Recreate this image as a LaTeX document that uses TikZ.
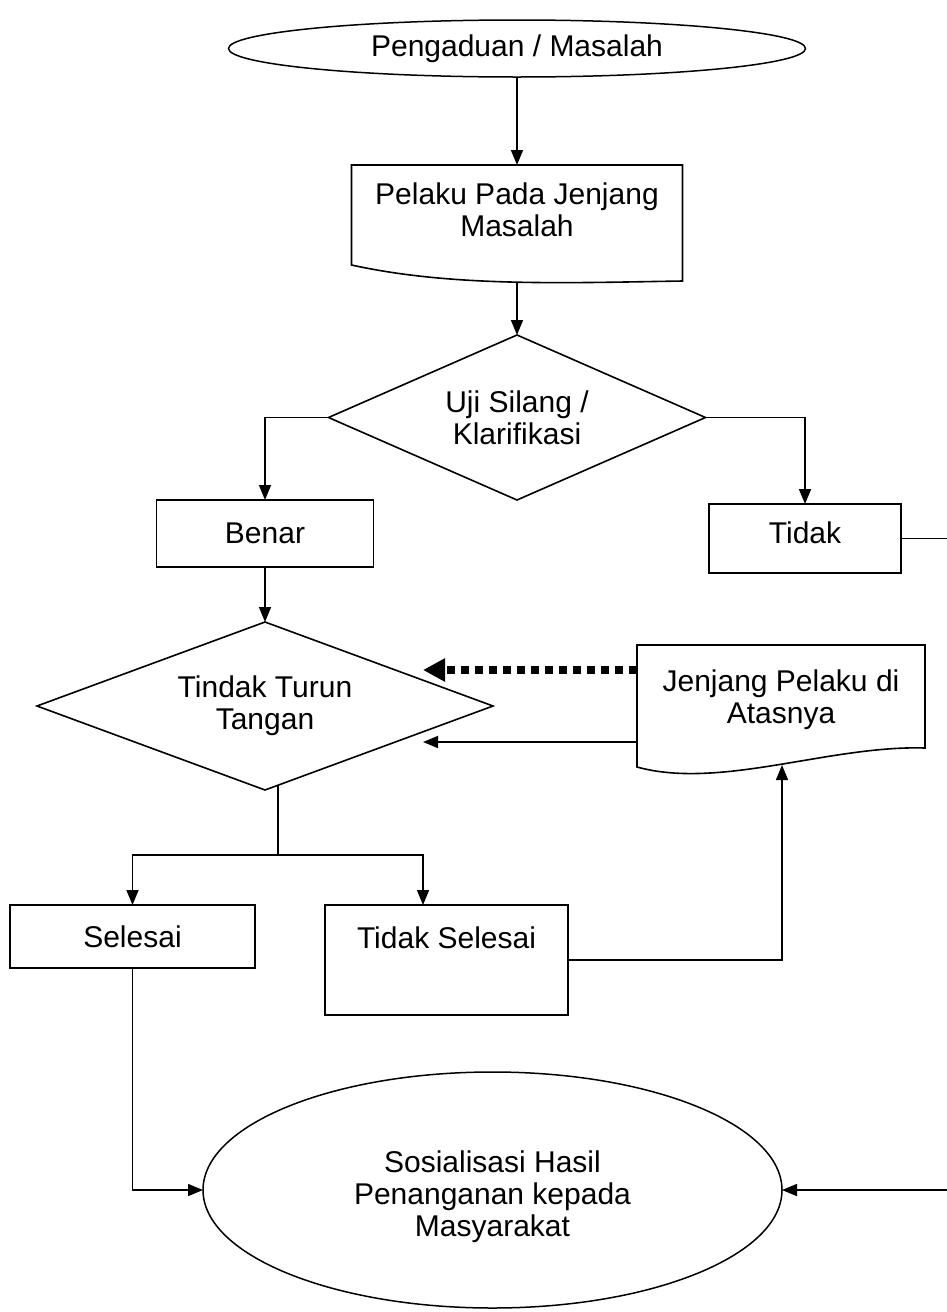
\documentclass[tikz,border=0pt]{standalone}
\usepackage{fontspec}
\setmainfont{Liberation Sans}
\usetikzlibrary{shapes.geometric,arrows.meta,calc}
\begin{document}
\begin{tikzpicture}[x=1pt,y=-1pt,
  every node/.style={font=\fontsize{30}{32}\selectfont, inner sep=0pt, outer sep=0pt},
  oval/.style={ellipse, draw, line width=1.5pt},
  procbox/.style={rectangle, draw, line width=1.6pt},
  docnode/.style={rectangle, align=center},
  decision/.style={diamond, draw, line width=1.6pt, align=center},
  outline/.style={line width=1.6pt},
  plain/.style={line width=1.6pt},
  arr/.style={line width=1.6pt, -{Triangle[length=15pt,width=12pt]}},
  dotarr/.style={line width=7.5pt, dash pattern=on 8pt off 6pt, -{Triangle[length=22pt,width=22pt]}}]
\useasboundingbox (0,0) rectangle (947,1312);

% nodes
\node[oval, minimum width=577pt, minimum height=57pt] (start) at (517,48.5) {Pengaduan / Masalah};
\node[docnode, minimum width=331pt, minimum height=100pt] (pelaku) at (517,215) {Pelaku Pada Jenjang\\Masalah\rule[-10pt]{0pt}{0pt}};
\node[decision, aspect=2.28, minimum width=377pt, minimum height=165pt] (uji) at (517,417.5) {Uji Silang /\\Klarifikasi};
\node[procbox, minimum width=217pt, minimum height=67pt] (benar) at (265,533.5) {Benar};
\node[procbox, minimum width=192pt, minimum height=69pt] (tidak) at (805,538.5) {Tidak\rule[-11pt]{0pt}{0pt}};
\node[decision, aspect=2.71, minimum width=456pt, minimum height=168pt] (tindak) at (265,706) {Tindak Turun\\Tangan};
\node[docnode, minimum width=288pt, minimum height=122pt] (jenjang) at (781,706) {Jenjang Pelaku di\\Atasnya\rule[-18pt]{0pt}{0pt}};
\node[procbox, minimum width=245pt, minimum height=63pt] (selesai) at (132.5,936.5) {Selesai};
\node[procbox, minimum width=243pt, minimum height=110pt] (tselesai) at (446.5,960) {Tidak Selesai\rule[-44pt]{0pt}{0pt}};
\node[oval, minimum width=579pt, minimum height=236pt, align=center] (sos) at (492.5,1190) {\rule{0pt}{36pt}Sosialisasi Hasil\\Penanganan kepada\\Masyarakat};

% document outlines
\draw[outline] (pelaku.north west) -- (pelaku.north east) -- ($(pelaku.south east)+(0,16)$)
  .. controls ($(pelaku.south east)+(-120,18)$) and ($(pelaku.south west)+(100,22)$) .. (pelaku.south west) -- cycle;
\draw[outline] (jenjang.north west) -- (jenjang.north east) -- ($(jenjang.south east)+(0,-19)$)
  .. controls ($(jenjang.south east)+(-95,-22)$) and ($(jenjang.south west)+(83,23)$) .. (jenjang.south west) -- cycle;

% helper coordinates
\coordinate (pelakuout) at ($(pelaku.south)+(0,17)$);
\coordinate (edgeA) at (947,538.5);
\coordinate (edgeB) at (947,1190);
\coordinate (jdot) at ($(jenjang.west)+(0,-36)$);
\coordinate (jsol) at ($(jenjang.west)+(0,36)$);
\coordinate (dotend) at ($(tindak.east)+(-70,-36)$);
\coordinate (solend) at ($(tindak.east)+(-70,36)$);
\coordinate (stemtop) at ($(tindak.south)+(13,-5)$);
\coordinate (split) at ($(tindak.south)+(13,65)$);
\coordinate (tsin) at ($(tselesai.north west)+(98,0)$);
\coordinate (jin) at ($(jenjang.south)+(1,-2)$);

% connectors
\draw[arr] (start.south) -- (pelaku.north);
\draw[arr] (pelakuout) -- (uji.north);
\draw[arr] (uji.west) -| (benar.north);
\draw[arr] (uji.east) -| (tidak.north);
\draw[plain] (tidak.east) -- (edgeA);
\draw[arr] (benar.south) -- (tindak.north);
\draw[dotarr] (jdot) -- (dotend);
\draw[arr] (jsol) -- (solend);
\draw[plain] (stemtop) -- (split);
\draw[arr] (split) -| (selesai.north);
\draw[arr] (split) -| (tsin);
\draw[arr] (tselesai.east) -| (jin);
\draw[arr] (selesai.south) |- (sos.west);
\draw[arr] (edgeB) -- (sos.east);
\end{tikzpicture}
\end{document}
